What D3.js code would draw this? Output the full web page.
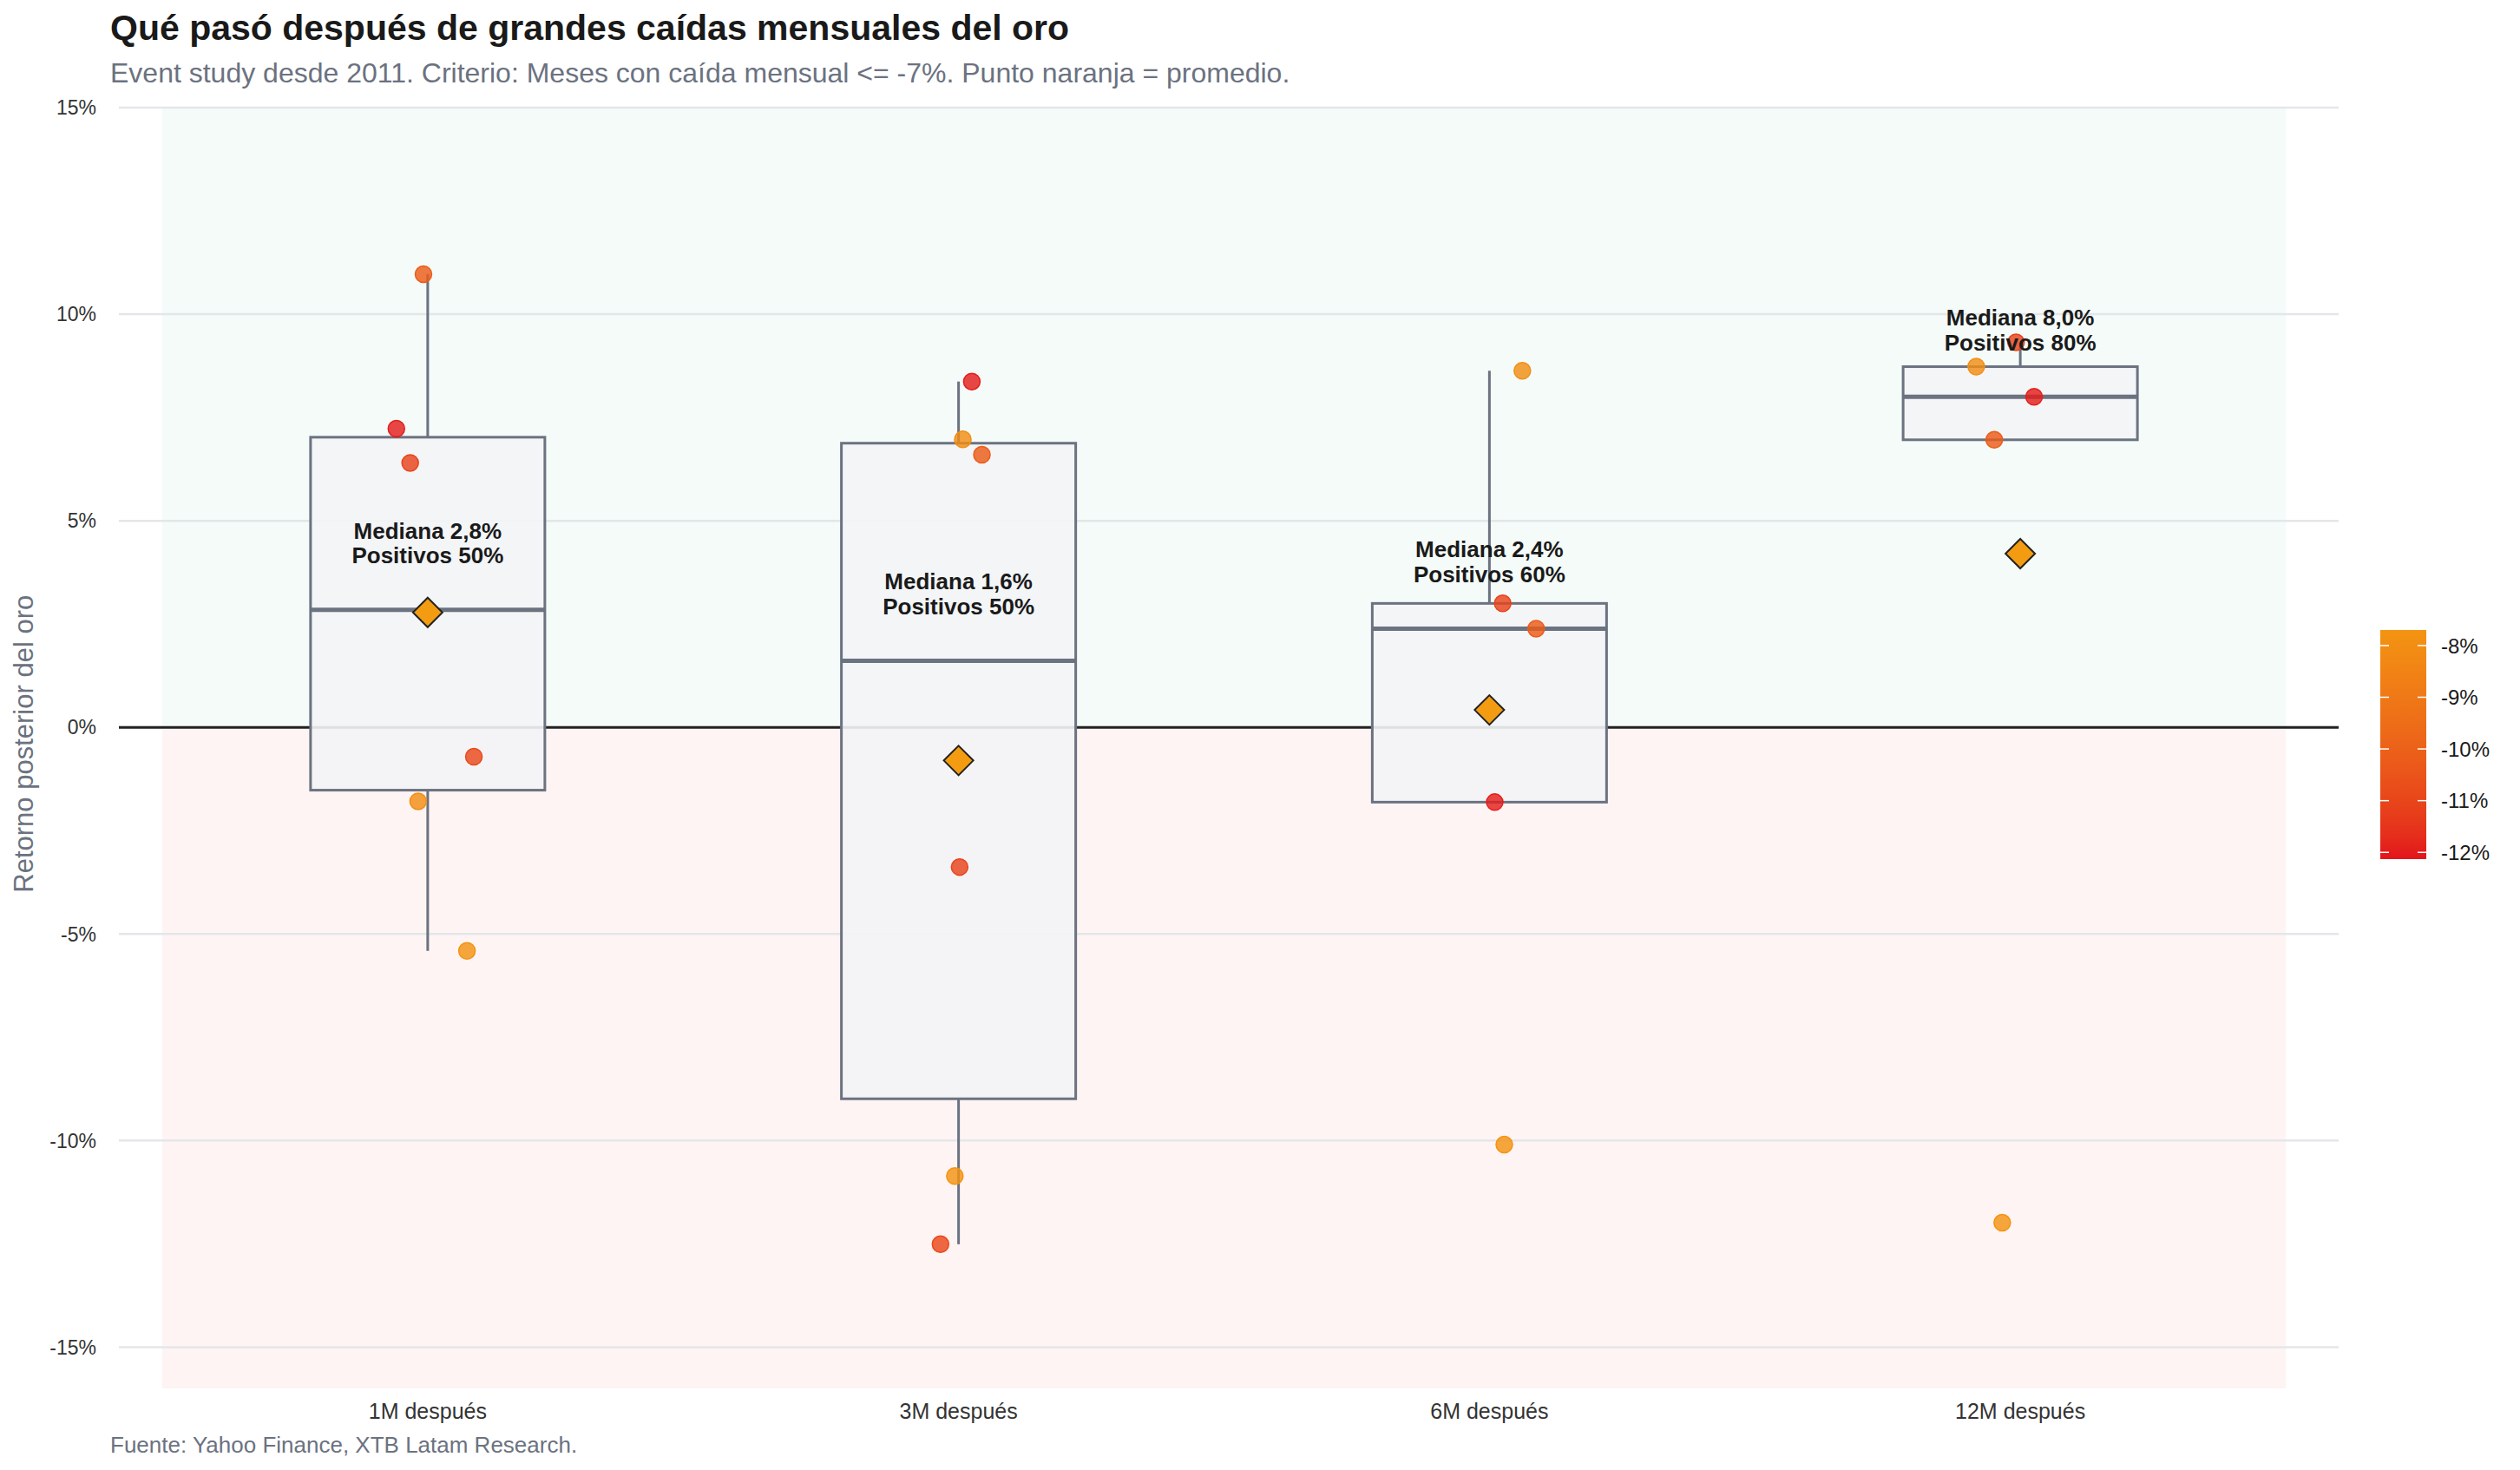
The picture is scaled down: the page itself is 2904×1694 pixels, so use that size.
<!DOCTYPE html>
<html>
<head>
<meta charset="utf-8">
<script src="https://cdn.jsdelivr.net/npm/d3@7"></script>
<style>
  body { margin: 0; background: #fff; font-family: "Liberation Sans", Arial, sans-serif; }
</style>
</head>
<body>
<div id="chart"></div>
<script>
// Data
const horizons = ["1M después", "3M después", "6M después", "12M después"];
// monthly drop of each event (colour)
const eventDrops = [-12.0, -11.1, -10.9, -10.2, -8.0, -7.7];
// gold return after each event, per horizon (null = not yet available)
const ret1M = [7.23, 6.40, -0.71, 10.97, -1.79, -5.41];
const ret3M = [8.37, -3.38, -12.51, 6.60, 6.97, -10.86];
const ret6M = [-1.81, 3.00, null, 2.39, 8.63, -10.10];
const ret12M = [8.00, 9.32, null, 6.96, 8.73, -11.99];
// horizontal jitter of the points, in category steps
const jit1M = [-0.059, -0.033, 0.087, -0.008, -0.018, 0.074];
const jit3M = [0.025, 0.002, -0.034, 0.044, 0.008, -0.007];
const jit6M = [0.010, 0.025, null, 0.088, 0.062, 0.028];
const jit12M = [0.026, -0.008, null, -0.049, -0.083, -0.034];
const yTicks = [-15, -10, -5, 0, 5, 10, 15];
const legendTicks = [-8, -9, -10, -11, -12];

const returns = [ret1M, ret3M, ret6M, ret12M];
const jitters = [jit1M, jit3M, jit6M, jit12M];

const svgWidth = 2904;
const svgHeight = 1694;

const svg = d3.select("#chart")
  .append("svg")
  .attr("width", svgWidth)
  .attr("height", svgHeight)
  .style("font-family", "'Liberation Sans', Arial, sans-serif");

// scales
const x = d3.scalePoint()
  .domain(horizons)
  .range([187, 2634])
  .padding(0.5);
const step = x.step();

const y = d3.scaleLinear()
  .domain([-16, 15])
  .range([1600, 124]);

const color = d3.scaleLinear()
  .domain([-12.13, -7.70])
  .range(["#e3141c", "#f39412"])
  .interpolate(d3.interpolateLab);

const fmt = v => d3.format(".1f")(v).replace(".", ",");

// build points + stats
const points = [];
const stats = horizons.map((h, i) => {
  const vals = [];
  returns[i].forEach((v, j) => {
    if (v === null) return;
    vals.push(v);
    points.push({ h: h, v: v, jit: jitters[i][j], drop: eventDrops[j] });
  });
  const s = vals.slice().sort(d3.ascending);
  const q1 = d3.quantile(s, 0.25);
  const med = d3.quantile(s, 0.5);
  const q3 = d3.quantile(s, 0.75);
  const iqr = q3 - q1;
  const lo = d3.min(s.filter(d => d >= q1 - 1.5 * iqr));
  const hi = d3.max(s.filter(d => d <= q3 + 1.5 * iqr));
  return {
    h: h, q1: q1, med: med, q3: q3, lo: lo, hi: hi,
    mean: d3.mean(s),
    pos: s.filter(d => d > 0).length / s.length
  };
});

// background panels
svg.append("rect")
  .attr("x", 187).attr("width", 2634 - 187)
  .attr("y", y(15)).attr("height", y(0) - y(15))
  .attr("fill", "#f4fbf8");
svg.append("rect")
  .attr("x", 187).attr("width", 2634 - 187)
  .attr("y", y(0)).attr("height", y(-16) - y(0))
  .attr("fill", "#fef4f4");

// grid
svg.append("g").selectAll("line")
  .data(yTicks)
  .enter()
  .append("line")
  .attr("x1", 137).attr("x2", 2695)
  .attr("y1", d => y(d)).attr("y2", d => y(d))
  .attr("stroke", "#e4e6e9")
  .attr("stroke-width", 2.5);

// y tick labels
svg.append("g").selectAll("text")
  .data(yTicks)
  .enter()
  .append("text")
  .attr("x", 111)
  .attr("y", d => y(d))
  .attr("dy", "0.36em")
  .attr("text-anchor", "end")
  .attr("font-size", 23)
  .attr("fill", "#333")
  .text(d => d + "%");

// zero line
svg.append("line")
  .attr("x1", 137).attr("x2", 2695)
  .attr("y1", y(0)).attr("y2", y(0))
  .attr("stroke", "#222")
  .attr("stroke-width", 3);

// boxes
const boxW = 270;
const boxes = svg.append("g").selectAll("g")
  .data(stats)
  .enter()
  .append("g");

boxes.append("line")
  .attr("x1", d => x(d.h)).attr("x2", d => x(d.h))
  .attr("y1", d => y(d.q3)).attr("y2", d => y(d.hi))
  .attr("stroke", "#6b7280").attr("stroke-width", 3);
boxes.append("line")
  .attr("x1", d => x(d.h)).attr("x2", d => x(d.h))
  .attr("y1", d => y(d.q1)).attr("y2", d => y(d.lo))
  .attr("stroke", "#6b7280").attr("stroke-width", 3);
boxes.append("rect")
  .attr("x", d => x(d.h) - boxW / 2)
  .attr("width", boxW)
  .attr("y", d => y(d.q3))
  .attr("height", d => y(d.q1) - y(d.q3))
  .attr("fill", "#f3f4f6")
  .attr("fill-opacity", 0.9)
  .attr("stroke", "#6b7280")
  .attr("stroke-width", 3);
boxes.append("line")
  .attr("x1", d => x(d.h) - boxW / 2).attr("x2", d => x(d.h) + boxW / 2)
  .attr("y1", d => y(d.med)).attr("y2", d => y(d.med))
  .attr("stroke", "#6b7280").attr("stroke-width", 5);

// jittered points
svg.append("g").selectAll("circle")
  .data(points)
  .enter()
  .append("circle")
  .attr("cx", d => x(d.h) + d.jit * step)
  .attr("cy", d => y(d.v))
  .attr("r", 9.5)
  .attr("fill", d => color(d.drop))
  .attr("fill-opacity", 0.82)
  .attr("stroke", d => color(d.drop))
  .attr("stroke-width", 1.5);

// mean diamonds
svg.append("g").selectAll("path")
  .data(stats)
  .enter()
  .append("path")
  .attr("transform", d => `translate(${x(d.h)},${y(d.mean)})`)
  .attr("d", "M0,-17L17,0L0,17L-17,0Z")
  .attr("fill", "#f39c12")
  .attr("stroke", "#222")
  .attr("stroke-width", 2);

// median / positives labels
const labels = svg.append("g").selectAll("text")
  .data(stats)
  .enter()
  .append("text")
  .attr("text-anchor", "middle")
  .attr("font-size", 26)
  .attr("font-weight", "bold")
  .attr("fill", "#1a1a1a");
labels.append("tspan")
  .attr("x", d => x(d.h))
  .attr("y", d => y(d.med + 1) - 34.5)
  .text(d => "Mediana " + fmt(d.med) + "%");
labels.append("tspan")
  .attr("x", d => x(d.h))
  .attr("y", d => y(d.med + 1) - 6)
  .text(d => "Positivos " + Math.round(d.pos * 100) + "%");

// x labels
svg.append("g").selectAll("text")
  .data(horizons)
  .enter()
  .append("text")
  .attr("x", d => x(d))
  .attr("y", 1635)
  .attr("text-anchor", "middle")
  .attr("font-size", 25)
  .attr("fill", "#333")
  .text(d => d);

// y axis title
svg.append("text")
  .attr("transform", `translate(38, ${y(-0.4)}) rotate(-90)`)
  .attr("text-anchor", "middle")
  .attr("font-size", 31)
  .attr("fill", "#6b7280")
  .text("Retorno posterior del oro");

// title, subtitle, caption
svg.append("text")
  .attr("x", 127).attr("y", 46)
  .attr("font-size", 41)
  .attr("font-weight", "bold")
  .attr("fill", "#1a1a1a")
  .text("Qué pasó después de grandes caídas mensuales del oro");
svg.append("text")
  .attr("x", 127).attr("y", 95)
  .attr("font-size", 32)
  .attr("fill", "#6b7280")
  .text("Event study desde 2011. Criterio: Meses con caída mensual <= -7%. Punto naranja = promedio.");
svg.append("text")
  .attr("x", 127).attr("y", 1674)
  .attr("font-size", 26)
  .attr("fill", "#6b7280")
  .text("Fuente: Yahoo Finance, XTB Latam Research.");

// colour legend
const ly = d3.scaleLinear().domain([-12.13, -7.70]).range([990, 726]);
const grad = svg.append("defs").append("linearGradient")
  .attr("id", "dropGrad")
  .attr("x1", 0).attr("y1", 1).attr("x2", 0).attr("y2", 0);
d3.range(0, 1.0001, 0.1).forEach(t => {
  grad.append("stop")
    .attr("offset", t)
    .attr("stop-color", color(-12.13 + t * (12.13 - 7.70)));
});
const legend = svg.append("g");
legend.append("rect")
  .attr("x", 2743).attr("width", 53)
  .attr("y", 726).attr("height", 264)
  .attr("fill", "url(#dropGrad)");
legend.selectAll("line.l")
  .data(legendTicks)
  .enter()
  .append("line")
  .attr("x1", 2743).attr("x2", 2753)
  .attr("y1", d => ly(d)).attr("y2", d => ly(d))
  .attr("stroke", "#fff").attr("stroke-width", 1.5);
legend.selectAll("line.r")
  .data(legendTicks)
  .enter()
  .append("line")
  .attr("x1", 2786).attr("x2", 2796)
  .attr("y1", d => ly(d)).attr("y2", d => ly(d))
  .attr("stroke", "#fff").attr("stroke-width", 1.5);
legend.selectAll("text")
  .data(legendTicks)
  .enter()
  .append("text")
  .attr("x", 2813)
  .attr("y", d => ly(d))
  .attr("dy", "0.36em")
  .attr("font-size", 24)
  .attr("fill", "#1a1a1a")
  .text(d => d + "%");
</script>
</body>
</html>
